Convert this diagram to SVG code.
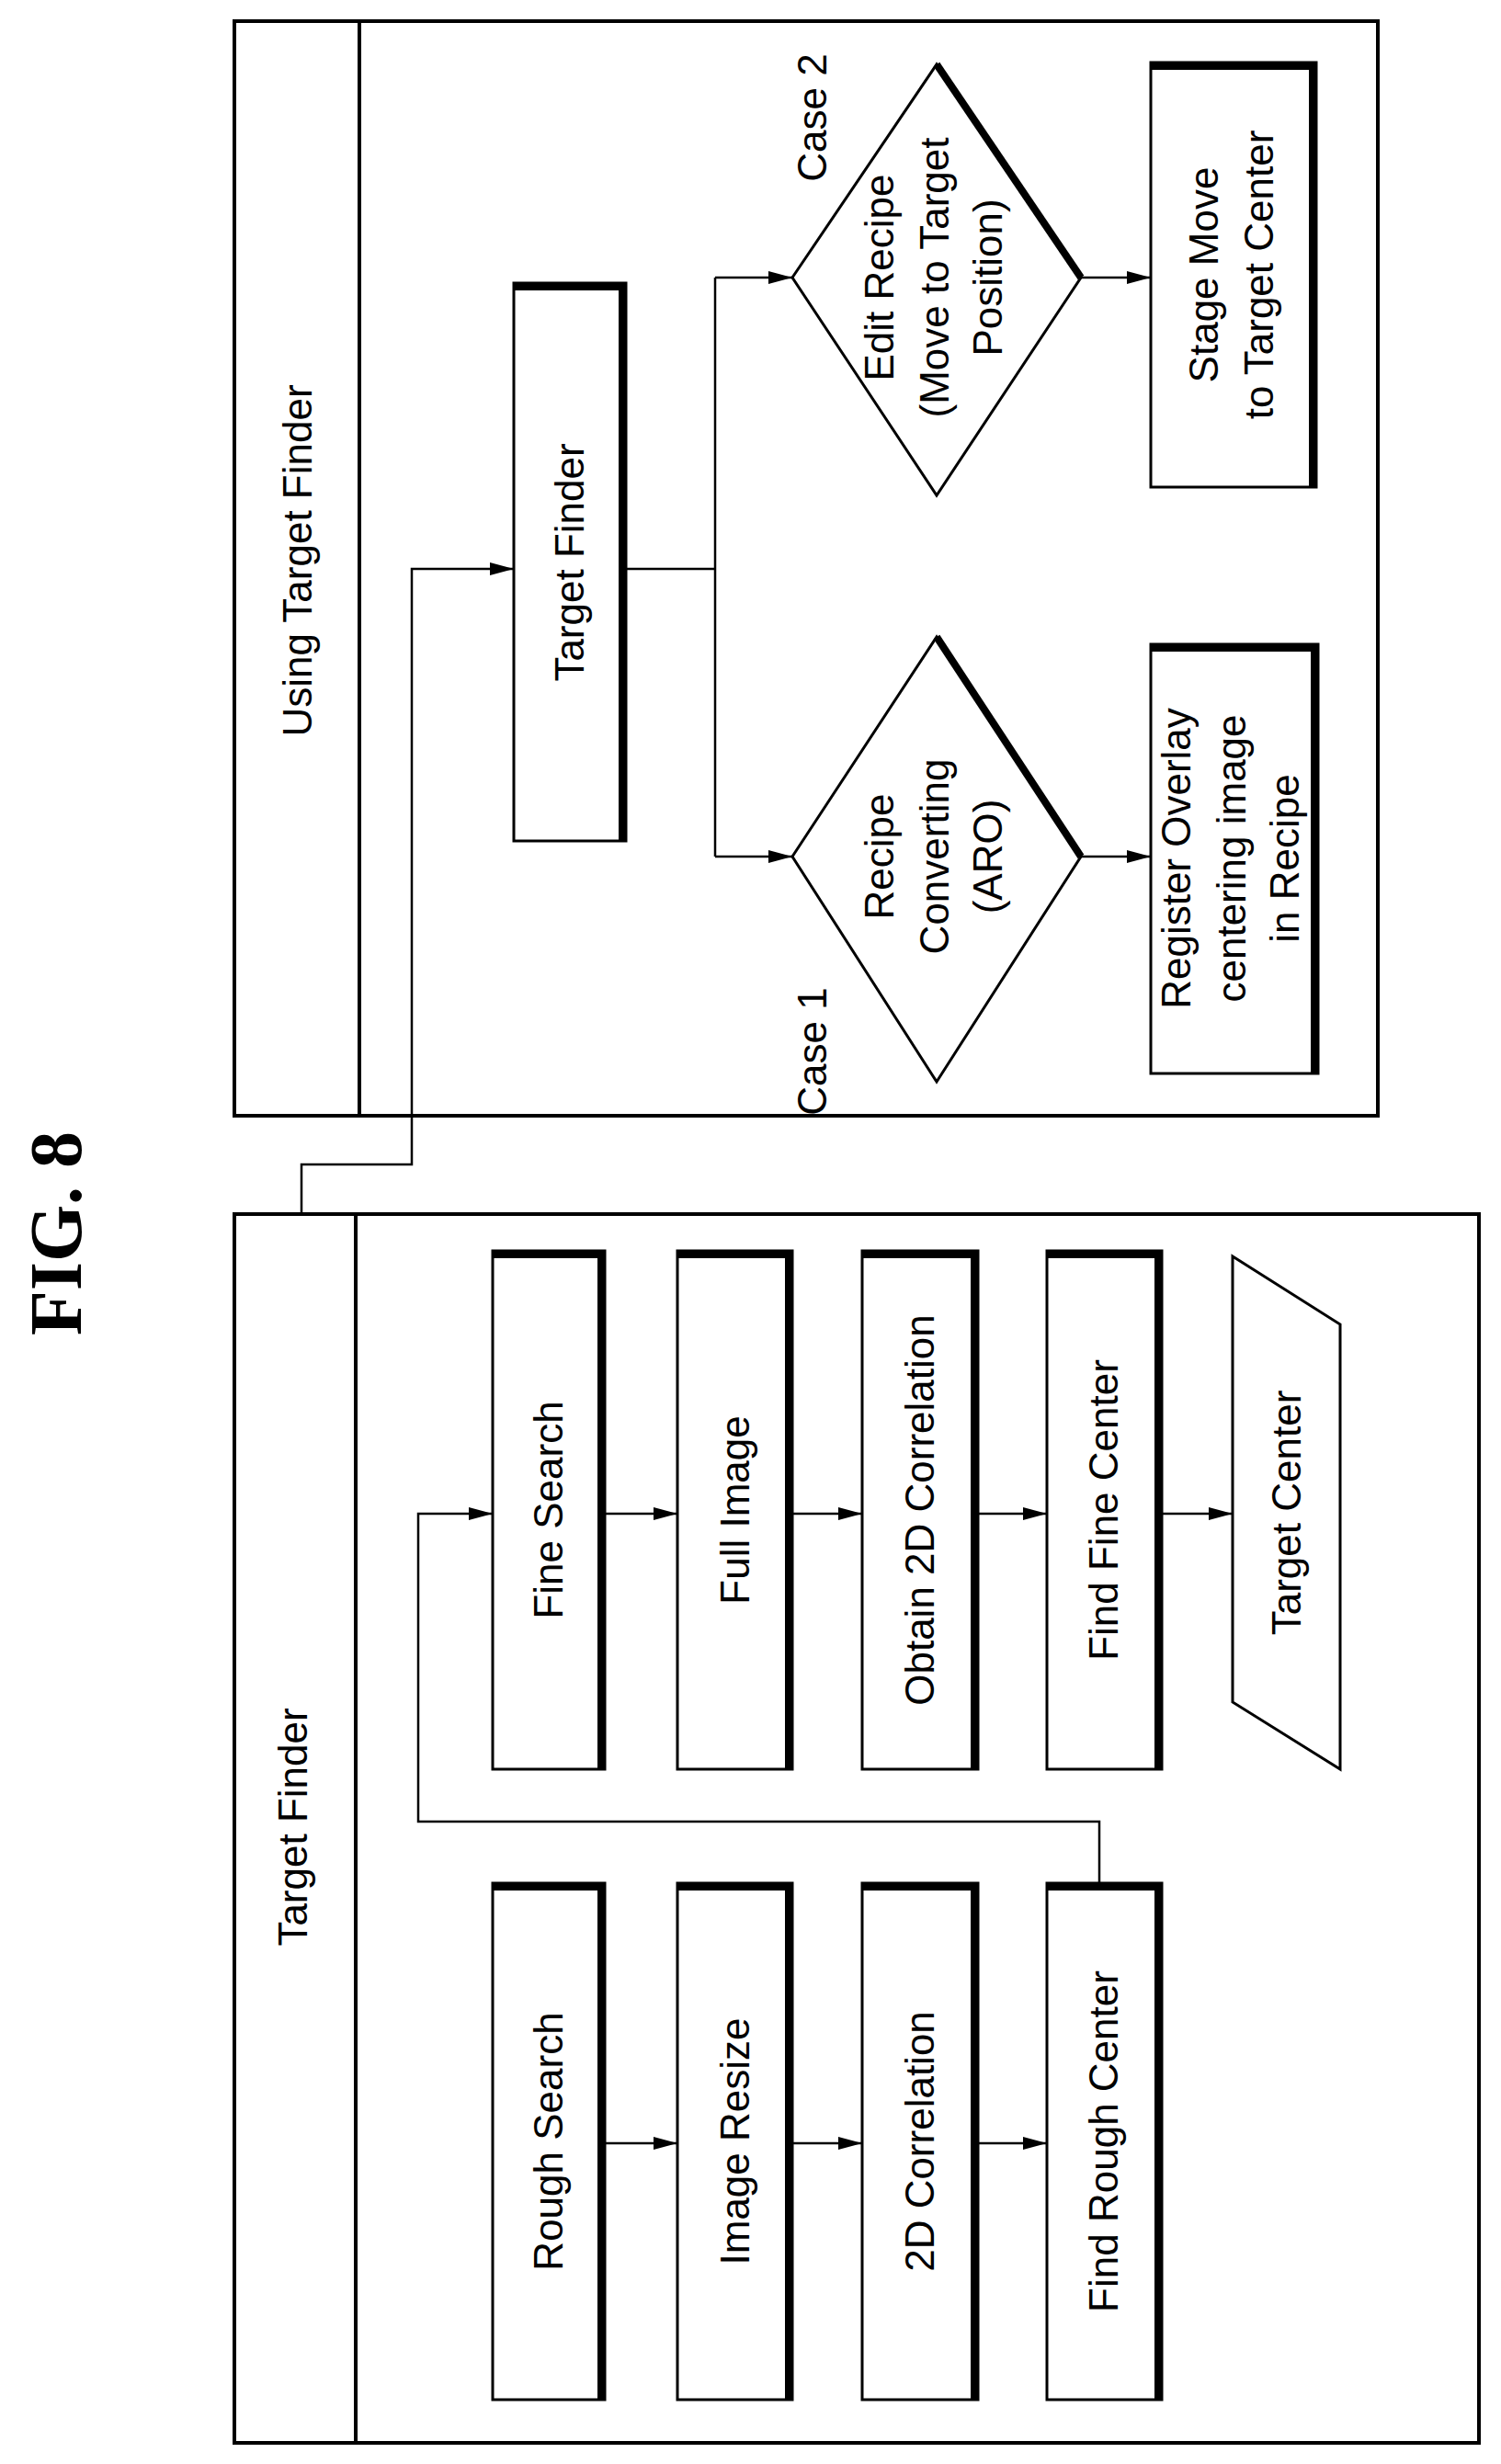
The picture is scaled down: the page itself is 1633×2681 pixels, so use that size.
<svg xmlns="http://www.w3.org/2000/svg" width="1633" height="2681" viewBox="0 0 1633 2681">
<style>
.t{font-family:"Liberation Sans",Arial,sans-serif;font-size:44px;text-anchor:middle;fill:#000}
.b{fill:#fff;stroke:#000;stroke-width:3}
.sh{fill:none;stroke:#000;stroke-width:8}
.c{fill:none;stroke:#000;stroke-width:2.5}
.o{fill:none;stroke:#000;stroke-width:4}
</style>
<defs><marker id="A" markerWidth="26" markerHeight="14" refX="26" refY="7" orient="auto" markerUnits="userSpaceOnUse"><path d="M0,0L26,7L0,14z" fill="#000"/></marker></defs>
<text x="60" y="1342" transform="rotate(-90 60 1342)" style="font-family:'Liberation Serif',serif;font-weight:bold;font-size:80px;text-anchor:middle" dy="28">FIG. 8</text>
<g id="upper"><rect class="o" x="255" y="23" width="1244" height="1191"/><line class="o" x1="391" y1="23" x2="391" y2="1214"/>
<text class="t" transform="translate(324 610) rotate(-90)" dy="15">Using Target Finder</text></g>
<g id="lower"><rect class="o" x="255" y="1321" width="1354" height="1337"/><line class="o" x1="387" y1="1321" x2="387" y2="2658"/>
<text class="t" transform="translate(319 1988) rotate(-90)" dy="15">Target Finder</text></g>
<g id="tf"><rect class="b" x="559" y="308" width="122" height="607"/><path class="sh" d="M559,312H677V915"/><text class="t" transform="translate(620 612) rotate(-90)" dy="15">Target Finder</text></g>
<g id="d1"><path class="b" d="M862,932L1019,693L1176,932L1019,1177z"/><path class="sh" d="M1019,693L1176,932"/><text class="t" transform="translate(1014 932) rotate(-90)"><tspan x="0" dy="-42">Recipe</tspan><tspan x="0" dy="60">Converting</tspan><tspan x="0" dy="58">(ARO)</tspan></text></g>
<g id="d2"><path class="b" d="M862,302L1019,70L1176,302L1019,539z"/><path class="sh" d="M1019,70L1176,302"/><text class="t" transform="translate(1014 302) rotate(-90)"><tspan x="0" dy="-42">Edit Recipe</tspan><tspan x="0" dy="60">(Move to Target</tspan><tspan x="0" dy="58">Position)</tspan></text></g>
<text class="t" transform="translate(884 1144) rotate(-90)" dy="15">Case 1</text>
<text class="t" transform="translate(884 128) rotate(-90)" dy="15">Case 2</text>
<g id="reg"><rect class="b" x="1252" y="701" width="182" height="467"/><path class="sh" d="M1252,705H1430V1168"/><text class="t" transform="translate(1340 934) rotate(-90)"><tspan x="0" dy="-45">Register Overlay</tspan><tspan x="0" dy="60">centering image</tspan><tspan x="0" dy="58">in Recipe</tspan></text></g>
<g id="stage"><rect class="b" x="1252" y="68" width="180" height="462"/><path class="sh" d="M1252,72H1428V530"/><text class="t" transform="translate(1340 299) rotate(-90)"><tspan x="0" dy="-15">Stage Move</tspan><tspan x="0" dy="60">to Target Center</tspan></text></g>
<g id="lowerNodes">
<g id="rs"><rect class="b" x="536" y="2049" width="122" height="562"/><path class="sh" d="M536,2053H654V2611"/><text class="t" transform="translate(597 2330) rotate(-90)" dy="15">Rough Search</text></g>
<g id="ir"><rect class="b" x="737" y="2049" width="125" height="562"/><path class="sh" d="M737,2053H858V2611"/><text class="t" transform="translate(800 2330) rotate(-90)" dy="15">Image Resize</text></g>
<g id="c2"><rect class="b" x="938" y="2049" width="126" height="562"/><path class="sh" d="M938,2053H1060V2611"/><text class="t" transform="translate(1001 2330) rotate(-90)" dy="15">2D Correlation</text></g>
<g id="frc"><rect class="b" x="1139" y="2049" width="125" height="562"/><path class="sh" d="M1139,2053H1260V2611"/><text class="t" transform="translate(1201 2330) rotate(-90)" dy="15">Find Rough Center</text></g>
<g id="fs"><rect class="b" x="536" y="1361" width="122" height="564"/><path class="sh" d="M536,1365H654V1925"/><text class="t" transform="translate(597 1643) rotate(-90)" dy="15">Fine Search</text></g>
<g id="fi"><rect class="b" x="737" y="1361" width="125" height="564"/><path class="sh" d="M737,1365H858V1925"/><text class="t" transform="translate(800 1643) rotate(-90)" dy="15">Full Image</text></g>
<g id="o2"><rect class="b" x="938" y="1361" width="126" height="564"/><path class="sh" d="M938,1365H1060V1925"/><text class="t" transform="translate(1001 1643) rotate(-90)" dy="15">Obtain 2D Correlation</text></g>
<g id="ffc"><rect class="b" x="1139" y="1361" width="125" height="564"/><path class="sh" d="M1139,1365H1260V1925"/><text class="t" transform="translate(1201 1643) rotate(-90)" dy="15">Find Fine Center</text></g>
<g id="tc"><path class="b" d="M1341,1367L1458,1441V1925L1341,1852z"/><text class="t" transform="translate(1400 1646) rotate(-90)" dy="15">Target Center</text></g>
</g>
<g id="connectors">
<path class="c" d="M681,619H778M778,302V932"/>
<path class="c" marker-end="url(#A)" d="M778,302H862"/>
<path class="c" marker-end="url(#A)" d="M778,932H862"/>
<path class="c" marker-end="url(#A)" d="M1176,302H1252"/>
<path class="c" marker-end="url(#A)" d="M1176,932H1252"/>
<path class="c" marker-end="url(#A)" d="M328,1321V1267H448V619H559"/>
<path class="c" marker-end="url(#A)" d="M658,2332H737"/>
<path class="c" marker-end="url(#A)" d="M862,2332H938"/>
<path class="c" marker-end="url(#A)" d="M1064,2332H1139"/>
<path class="c" marker-end="url(#A)" d="M1196,2049V1982H455V1647H536"/>
<path class="c" marker-end="url(#A)" d="M658,1647H737"/>
<path class="c" marker-end="url(#A)" d="M862,1647H938"/>
<path class="c" marker-end="url(#A)" d="M1064,1647H1139"/>
<path class="c" marker-end="url(#A)" d="M1264,1647H1341"/>
</g>
</svg>
